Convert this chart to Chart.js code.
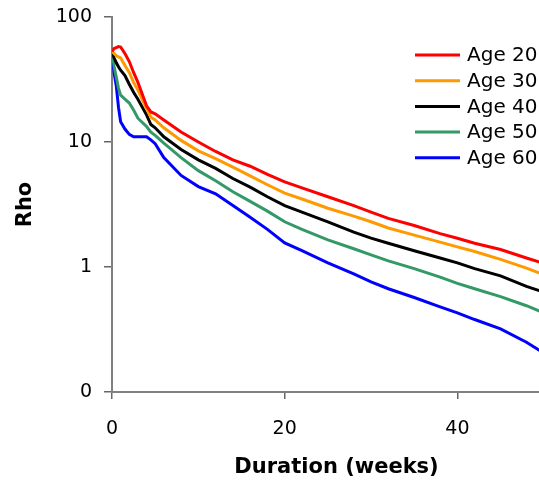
<!DOCTYPE html>
<html>
<head>
<meta charset="utf-8">
<script src="https://cdn.jsdelivr.net/npm/chart.js@4"></script>
<style>
  html, body { margin: 0; padding: 0; background: #fff; overflow: hidden; }
  #wrap { width: 561px; height: 483px; }
</style>
</head>
<body>
<div id="wrap"><canvas id="rhoChart" width="561" height="483"></canvas></div>
<script>
// durata in settimane
const weeks = [0, 0.25, 0.5, 0.75, 1, 1.5, 2, 2.5, 3, 4, 4.5, 5, 6, 8, 10, 12, 14, 16, 18, 20, 22, 25, 28, 30, 32, 35, 38, 40, 42, 45, 48, 50];

const age20 = [53, 56, 57, 58, 57.5, 51, 44, 36, 30, 19.5, 17.4, 16.8, 15, 12, 10, 8.4, 7.2, 6.4, 5.5, 4.8, 4.3, 3.65, 3.1, 2.75, 2.45, 2.15, 1.85, 1.7, 1.55, 1.38, 1.18, 1.07];
const age30 = [53, 51, 49, 48, 47, 41, 36, 30, 26, 18.5, 15.8, 15, 13, 10.3, 8.5, 7.35, 6.3, 5.35, 4.55, 3.9, 3.5, 2.95, 2.55, 2.3, 2.05, 1.8, 1.58, 1.45, 1.33, 1.15, 0.98, 0.87];
const age40 = [53, 47, 43, 40, 37.5, 34, 29, 25, 22, 16.5, 13.8, 13, 11, 8.7, 7.2, 6.15, 5.1, 4.35, 3.65, 3.1, 2.75, 2.3, 1.9, 1.7, 1.55, 1.35, 1.18, 1.08, 0.97, 0.85, 0.7, 0.63];
const age50 = [53, 40, 33, 27, 23.7, 22, 20.5, 18, 15.5, 13.3, 12, 11.3, 9.8, 7.5, 5.9, 4.9, 4.0, 3.35, 2.8, 2.3, 2.0, 1.65, 1.4, 1.25, 1.12, 0.97, 0.83, 0.74, 0.67, 0.58, 0.49, 0.43];
const age60 = [53, 35.5, 28, 19, 14.5, 12.7, 11.5, 11, 11, 11, 10.4, 9.7, 7.5, 5.4, 4.4, 3.85, 3.1, 2.5, 2.0, 1.56, 1.35, 1.08, 0.88, 0.76, 0.67, 0.57, 0.48, 0.43, 0.38, 0.32, 0.25, 0.205];

const seriesLabels = ['Age 20', 'Age 30', 'Age 40', 'Age 50', 'Age 60'];
const seriesValues = [age20, age30, age40, age50, age60];
const seriesColors = ['#ff0000', '#ff9900', '#000000', '#339966', '#0000ff'];

const yTicks = [0.1, 1, 10, 100];
const xTicks = [0, 20, 40];

function toPoints(values) {
  return weeks.map((w, i) => ({ x: w, y: values[i] }));
}

// legenda disegnata dentro l'area del grafico
const insideLegend = {
  id: 'insideLegend',
  afterDraw(chart) {
    const ctx = chart.ctx;
    ctx.save();
    ctx.font = '20px "DejaVu Sans"';
    ctx.textBaseline = 'middle';
    chart.data.datasets.forEach((ds, i) => {
      const y = 55 + i * 25.7;
      ctx.strokeStyle = ds.borderColor;
      ctx.lineWidth = 3;
      ctx.beginPath();
      ctx.moveTo(415, y);
      ctx.lineTo(460, y);
      ctx.stroke();
      ctx.fillStyle = '#000';
      ctx.fillText(ds.label, 467, y + 1);
    });
    ctx.restore();
  }
};

const datasets = seriesLabels.map((label, i) => ({
  label: label,
  data: toPoints(seriesValues[i]),
  borderColor: seriesColors[i],
  backgroundColor: seriesColors[i],
  borderWidth: 3,
  pointRadius: 0,
  tension: 0,
  fill: false
}));

const ctx = document.getElementById('rhoChart').getContext('2d');
new Chart(ctx, {
  type: 'line',
  data: { datasets: datasets },
  options: {
    responsive: false,
    animation: false,
    layout: { padding: { top: 17, left: 0, right: 0, bottom: 0 } },
    plugins: {
      legend: { display: false },
      tooltip: { enabled: false }
    },
    scales: {
      x: {
        type: 'linear',
        min: 0,
        max: 52,
        afterBuildTicks: scale => { scale.ticks = xTicks.map(v => ({ value: v })); },
        afterFit: scale => { scale.height = 91; },
        grid: { drawOnChartArea: false, drawTicks: true, tickLength: 7, color: '#666', lineWidth: 1.5 },
        border: { display: true, color: '#808080', width: 2 },
        ticks: { color: '#000', padding: 19, maxRotation: 0, font: { family: 'DejaVu Sans', size: 19 } },
        title: {
          display: true,
          text: 'Duration (weeks)',
          color: '#000',
          padding: { top: 0, bottom: 3 },
          font: { family: 'DejaVu Sans', size: 21, weight: 'bold' }
        }
      },
      y: {
        type: 'logarithmic',
        min: 0.1,
        max: 100,
        afterBuildTicks: scale => { scale.ticks = yTicks.map(v => ({ value: v })); },
        afterFit: scale => {
          scale.width = 112;
          scale.paddingTop = 0;
          scale.paddingBottom = 0;
        },
        grid: { drawOnChartArea: false, drawTicks: true, tickLength: 8, color: '#666', lineWidth: 1.5 },
        border: { display: true, color: '#808080', width: 2 },
        ticks: {
          color: '#000',
          padding: 12,
          font: { family: 'DejaVu Sans', size: 19 },
          callback: v => (v < 1 ? '0' : String(v))
        },
        title: {
          display: true,
          text: 'Rho',
          color: '#000',
          padding: { top: 13, bottom: 0 },
          font: { family: 'DejaVu Sans', size: 21, weight: 'bold' }
        }
      }
    }
  },
  plugins: [insideLegend]
});
</script>
</body>
</html>
